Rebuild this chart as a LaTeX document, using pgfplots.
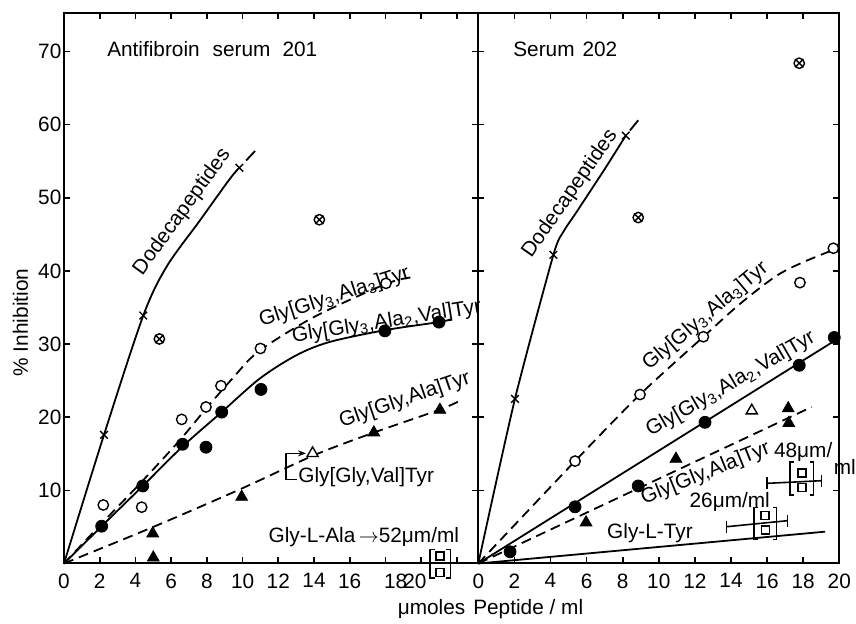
\documentclass[border=0pt]{standalone}
\usepackage{fontspec}
\setmainfont{Liberation Sans}
\usepackage{pgfplots}
\pgfplotsset{compat=1.18}
\usetikzlibrary{plotmarks,arrows.meta}

\newcommand{\lblfont}{\fontsize{10.4}{12}\selectfont}

\pgfplotsset{
  panel/.style={
    scale only axis, clip=false, anchor=south west,
    height=275pt, ymin=0, ymax=75.2,
    axis line style={line width=1pt},
    tick style={line width=0.8pt, black},
    major tick length=3pt,
    tick align=inside,
    ytick={10,20,...,70},
    /pgf/number format/assume math mode=true,
    tick label style={font=\lblfont},
    xticklabel style={yshift=-1.5pt},
    yticklabel style={xshift=2.2pt},
  },
  fit/.style={line width=0.9pt, black, no marks},
  fitdash/.style={fit, dash pattern=on 5pt off 3pt},
  crosses/.style={only marks, mark=x, mark size=2.7pt, line width=0.7pt, black},
  otim/.style={only marks, mark=otimes*, mark size=2.6pt, line width=0.7pt, black, fill=white},
  opencirc/.style={only marks, mark=*, mark size=2.6pt, line width=0.7pt, black, fill=white},
  fullcirc/.style={only marks, mark=*, mark size=3pt, black},
  fulltri/.style={only marks, mark=triangle*, mark size=3.4pt, black},
  opentri/.style={only marks, mark=triangle*, mark size=3.2pt, line width=0.7pt, black, fill=white},
  sq/.style={only marks, mark=square*, mark size=2pt, line width=0.7pt, black, fill=white},
  brk/.style={line width=0.7pt, black, no marks},
  rangebar/.style={line width=0.8pt, black, mark=|, mark size=3pt},
}
\tikzset{lbl/.style={font=\lblfont, inner sep=0pt}}

\begin{document}
\begin{tikzpicture}
\useasboundingbox (-32pt,-30.25pt) rectangle (396pt,281.75pt);

% ---------------- Antifibroin serum 201 ----------------
\begin{axis}[panel, at={(0pt,0pt)}, width=207.15pt, xmin=0, xmax=23.2,
  xtick={0,2,...,22}, xticklabels={0,2,4,6,8,10,12,14,16,,,},
  extra x ticks={18.57,19.65}, extra x tick labels={18,20},
  extra x tick style={major tick length=0pt}]

% fitted curves
\addplot[fit, smooth, tension=0.5] coordinates
  {(0,0) (2.24,17.6) (4.44,33.9) (5.75,40.6) (7.61,46.9) (9.29,52.6) (9.82,54.1)};
\addplot[fit] coordinates {(10.2,55.1) (10.7,56.4)};
\addplot[fitdash, smooth] coordinates
  {(0,0) (2.2,5.7) (4.4,11.3) (6.5,16.9) (8,21.3) (9.4,25.2) (10.9,29.0) (14,33.7) (18,38.2) (19.4,39.1)};
\addplot[fit, smooth] coordinates
  {(0,0) (2.11,5.1) (4.41,10.6) (6.64,16.0) (8.83,20.7) (10.97,25.3) (13.03,28.5) (14.89,30.3) (17.97,31.9) (20.96,33.0) (21.7,33.4)};
\addplot[fitdash, smooth] coordinates
  {(0,0) (5,5.0) (10,10.3) (14,14.8) (17.35,17.9) (21,21.0) (22.3,22.4)};

% Gly[Gly,Val]Tyr pointer
\addplot[brk, -{Stealth[length=4pt,width=3pt]}] coordinates
  {(13.03,11.5) (12.43,11.5) (12.43,15.06) (13.55,15.06)};

% Gly-L-Ala duplicate at 52 umol/ml
\addplot[brk] coordinates {(20.75,1.9) (20.5,1.9) (20.5,-2.0) (20.75,-2.0)};
\addplot[brk] coordinates {(21.4,1.9) (21.65,1.9) (21.65,-2.0) (21.4,-2.0)};
\addplot[sq] coordinates {(21.05,1.0) (21.05,-1.2)};

% data points
\addplot[crosses] coordinates {(2.24,17.6) (4.44,33.9) (9.82,54.1)};
\addplot[otim] coordinates {(5.34,30.7) (14.3,47.0)};
\addplot[opencirc] coordinates {(2.2,8.0) (4.35,7.7) (6.59,19.7) (7.95,21.4) (8.79,24.3) (11.0,29.4) (18.03,38.3)};
\addplot[fullcirc] coordinates {(2.11,5.1) (4.41,10.6) (6.64,16.3) (7.95,15.9) (8.83,20.7) (11.03,23.8) (17.97,31.8) (21.0,33.0)};
\addplot[fulltri] coordinates {(4.97,4.1) (5.0,0.8) (9.95,9.1) (17.35,17.9) (21.05,21.0)};
\addplot[opentri] coordinates {(13.92,15.06)};

% labels
\node[lbl, anchor=west] at (2.4,70.3) {Antifibroin\hspace{6.5pt}serum\hspace{6pt}201};
\node[lbl, rotate=54] at (6.62,48.05) {Dodecapeptides};
\node[lbl, rotate=18] at (15.15,36.4) {Gly[Gly\textsubscript{3},Ala\textsubscript{3}]Tyr};
\node[lbl, rotate=9] at (18.07,33.0) {Gly[Gly\textsubscript{3},Ala\textsubscript{2},Val]Tyr};
\node[lbl, rotate=19] at (19.09,22.35) {Gly[Gly,Ala]Tyr};
\node[lbl, anchor=west] at (13.1,11.75) {Gly[Gly,Val]Tyr};
\node[lbl, anchor=west] at (11.44,3.66) {Gly-L-Ala\,$\rightarrow$52μm/ml};
\end{axis}

% ---------------- Serum 202 ----------------
\begin{axis}[panel, at={(207.15pt,0pt)}, width=180.5pt, xmin=0, xmax=20,
  xtick={0,2,...,20}, yticklabels={}]

% fitted curves
\addplot[fit, smooth, tension=0.4] coordinates
  {(0,0) (2.03,22.5) (4.16,42.2) (4.7,45.3) (5.4,47.9) (6.2,50.9) (7.1,54.3) (8.17,58.5)};
\addplot[fit] coordinates {(8.4,59.2) (8.86,60.6)};
\addplot[fitdash, smooth] coordinates
  {(0,0) (5.36,14.0) (8.96,23.1) (12.47,31.0) (14.5,35.5) (16.5,39.3) (18,41.2) (20,43.2)};
\addplot[fit] coordinates {(0,0) (19.9,30.7)};
\addplot[fitdash] coordinates {(0,0) (18.47,21.4)};
\addplot[fit, mark=|, mark size=3pt, mark indices={2}] coordinates {(0,0) (19.21,4.35)};

% range bars with duplicate determinations
\addplot[rangebar] coordinates {(13.76,5.03) (17.12,5.85)};
\addplot[brk] coordinates {(15.47,7.65) (15.27,7.65) (15.27,3.28) (15.47,3.28)};
\addplot[brk] coordinates {(16.33,7.65) (16.53,7.65) (16.53,3.28) (16.33,3.28)};
\addplot[sq] coordinates {(15.88,6.6) (15.92,4.6)};
\addplot[rangebar] coordinates {(16.01,10.96) (19.02,11.32)};
\addplot[brk] coordinates {(17.47,13.87) (17.27,13.87) (17.27,9.36) (17.47,9.36)};
\addplot[brk] coordinates {(18.36,13.87) (18.56,13.87) (18.56,9.36) (18.36,9.36)};
\addplot[sq] coordinates {(17.93,12.4) (17.93,10.4)};

% data points
\addplot[crosses] coordinates {(2.03,22.5) (4.16,42.2) (8.17,58.5)};
\addplot[otim] coordinates {(8.86,47.3) (17.78,68.4)};
\addplot[opencirc] coordinates {(5.36,14.0) (8.96,23.1) (12.47,31.0) (17.82,38.4) (19.67,43.1)};
\addplot[fullcirc] coordinates {(1.76,1.6) (5.36,7.75) (8.86,10.6) (12.56,19.3) (17.78,27.1) (19.72,30.9)};
\addplot[fulltri] coordinates {(5.97,5.6) (10.95,14.3) (17.17,21.2) (17.2,19.2)};
\addplot[opentri] coordinates {(15.15,20.9)};

% labels
\node[lbl, anchor=west] at (1.92,70.3) {Serum\hspace{4pt}202};
\node[lbl, rotate=55] at (5.08,50.55) {Dodecapeptides};
\node[lbl, rotate=40] at (12.6,33.8) {Gly[Gly\textsubscript{3},Ala\textsubscript{3}]Tyr};
\node[lbl, rotate=30] at (13.99,24.5) {Gly[Gly\textsubscript{3},Ala\textsubscript{2},Val]Tyr};
\node[lbl, rotate=22] at (12.6,12.3) {Gly[Gly,Ala]Tyr};
\node[lbl] at (9.51,4.1) {Gly-L-Tyr};
\node[lbl] at (13.93,8.4) {26μm/ml};
\node[lbl] at (18.0,15.24) {48μm/};
\node[lbl] at (20.3,13.2) {ml};
\end{axis}

% axis titles
\node[font=\lblfont, rotate=90] at (-21.75pt,120.5pt) {\% Inhibition};
\node[font=\lblfont] at (213.25pt,-22.75pt) {μmoles\hspace{4pt}Peptide / ml};
\end{tikzpicture}
\end{document}
